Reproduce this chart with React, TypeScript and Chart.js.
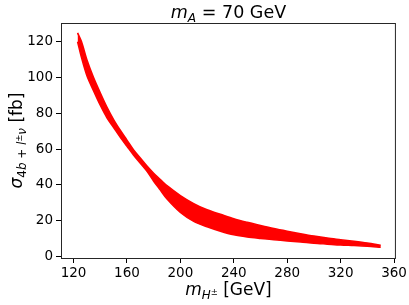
import React, { useEffect, useRef } from 'react';
import { Chart, registerables } from 'chart.js';

Chart.register(...registerables);

// Band of the scatter: upper and lower edges
const massH = [123, 126, 130, 135, 140, 145, 150, 155, 160, 165, 170, 175, 180, 185, 190, 200, 210, 220, 230, 240, 250, 260, 270, 280, 290, 300, 310, 320, 330, 340, 350];
const sigmaUpper = [125, 120, 110, 100, 91.5, 83.5, 76.5, 70.5, 65, 59.5, 55, 50.5, 46.5, 43, 39.5, 34, 29.5, 26, 23.5, 21, 19, 17.2, 15.5, 14, 12.6, 11.3, 10.2, 9.3, 8.4, 7.4, 6.2];
const sigmaLower = [120, 111, 101, 92.5, 84.5, 77.5, 72, 66.5, 61.5, 56.5, 52, 47.5, 42, 37, 32, 24.5, 19.5, 16.5, 14, 12, 10.8, 10, 9.3, 8.6, 8, 7.3, 6.8, 6.3, 6, 5.6, 5];

const xTicks = [120, 160, 200, 240, 280, 320, 360];
const yTicks = [0, 20, 40, 60, 80, 100, 120];

const FONT = '"DejaVu Sans", sans-serif';

type Run = { t: string; it?: boolean; s?: number; dy?: number };

function drawRuns(ctx: CanvasRenderingContext2D, runs: Run[], x: number, y: number, size: number) {
  const fontOf = (r: Run) => `${r.it ? 'italic ' : ''}${(r.s ?? 1) * size}px ${FONT}`;
  let total = 0;
  const widths = runs.map((r) => {
    ctx.font = fontOf(r);
    const w = ctx.measureText(r.t).width;
    total += w;
    return w;
  });
  let cx = x - total / 2;
  ctx.textAlign = 'left';
  ctx.textBaseline = 'alphabetic';
  runs.forEach((r, i) => {
    ctx.font = fontOf(r);
    ctx.fillText(r.t, cx, y + (r.dy ?? 0) * size);
    cx += widths[i];
  });
}

const labelsPlugin = {
  id: 'labelsPlugin',
  afterDraw(chart: any) {
    const ctx: CanvasRenderingContext2D = chart.ctx;
    const a = chart.chartArea;
    ctx.save();
    ctx.strokeStyle = '#262626';
    ctx.lineWidth = 1;
    ctx.strokeRect(a.left + 0.5, a.top + 0.5, a.right - a.left - 1, a.bottom - a.top);
    ctx.fillStyle = '#000';
    const cx = (a.left + a.right) / 2;
    // title
    drawRuns(ctx, [
      { t: 'm', it: true },
      { t: 'A', it: true, s: 0.7, dy: 0.22 },
      { t: ' = 70 GeV' },
    ], cx, 18, 17.5);
    // x label
    drawRuns(ctx, [
      { t: 'm', it: true },
      { t: 'H', it: true, s: 0.7, dy: 0.22 },
      { t: '±', s: 0.5, dy: 0.0 },
      { t: ' [GeV]' },
    ], cx, 295, 17);
    // y label
    ctx.translate(22, (a.top + a.bottom) / 2);
    ctx.rotate(-Math.PI / 2);
    drawRuns(ctx, [
      { t: 'σ', it: true },
      { t: '4', s: 0.7, dy: 0.22 },
      { t: 'b', it: true, s: 0.7, dy: 0.22 },
      { t: ' + ', s: 0.7, dy: 0.22 },
      { t: 'l', it: true, s: 0.7, dy: 0.22 },
      { t: '±', s: 0.5, dy: 0.0 },
      { t: 'ν', it: true, s: 0.7, dy: 0.22 },
      { t: ' [fb]' },
    ], 0, 0, 17);
    ctx.restore();
  },
};

export default function App() {
  const ref = useRef<HTMLCanvasElement>(null);
  useEffect(() => {
    document.body.style.margin = '0';
    const upperData = massH.map((x, i) => ({ x, y: sigmaUpper[i] }));
    const lowerData = massH.map((x, i) => ({ x, y: sigmaLower[i] }));
    const chart = new Chart(ref.current!, {
      type: 'line',
      data: {
        datasets: [
          {
            data: upperData,
            borderColor: '#ff0000',
            borderWidth: 1.5,
            pointRadius: 0,
            fill: false,
            tension: 0.3,
          },
          {
            data: lowerData,
            borderColor: '#ff0000',
            borderWidth: 1.5,
            backgroundColor: '#ff0000',
            pointRadius: 0,
            fill: '-1',
            tension: 0.3,
          },
        ],
      },
      options: {
        responsive: false,
        animation: false,
        layout: { padding: { top: 23, right: 11, left: 0, bottom: 0 } },
        plugins: { legend: { display: false }, tooltip: { enabled: false }, title: { display: false } },
        scales: {
          x: {
            type: 'linear',
            min: 110.6,
            max: 361.4,
            afterBuildTicks: (s: any) => { s.ticks = xTicks.map((v) => ({ value: v })); },
            afterFit: (s: any) => { s.height = 47; },
            ticks: { font: { family: FONT, size: 13.5 }, color: '#000', padding: 2, maxRotation: 0, autoSkip: false },
            grid: { drawOnChartArea: false, drawTicks: true, tickLength: 5, tickColor: '#000', tickWidth: 1 },
            border: { display: false },
          },
          y: {
            type: 'linear',
            min: -0.95,
            max: 130.5,
            afterBuildTicks: (s: any) => { s.ticks = yTicks.map((v) => ({ value: v })); },
            afterFit: (s: any) => { s.width = 61; },
            ticks: { font: { family: FONT, size: 13.5 }, color: '#000', padding: 3, autoSkip: false },
            grid: { drawOnChartArea: false, drawTicks: true, tickLength: 5, tickColor: '#000', tickWidth: 1 },
            border: { display: false },
          },
        },
      },
      plugins: [labelsPlugin],
    });
    return () => chart.destroy();
  }, []);
  return (
    <div style={{ position: 'fixed', left: 0, top: 0, width: 409, height: 305, background: '#fff' }}>
      <canvas ref={ref} width={409} height={305} style={{ width: 409, height: 305 }} />
    </div>
  );
}
